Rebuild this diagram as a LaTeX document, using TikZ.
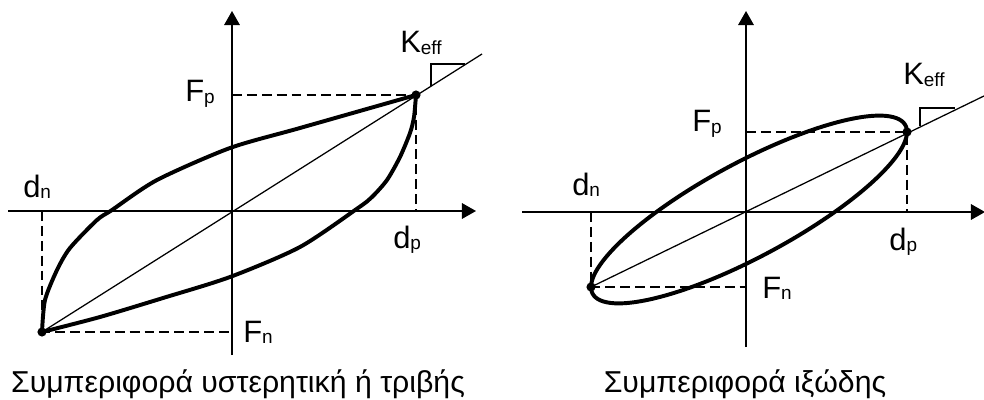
\documentclass[tikz,border=0pt]{standalone}
\usepackage{fontspec}
\setmainfont{Liberation Sans}
\usetikzlibrary{arrows.meta}
\newcommand{\lsub}[1]{\raisebox{-1.2pt}{\fontsize{13.5}{14}\selectfont #1}}
\tikzset{
    axisline/.style={line width=1.3pt, -{Triangle[length=10pt, width=11pt]}},
    loopline/.style={line width=2.8pt, line join=round, line cap=round},
    slopeline/.style={line width=0.9pt},
    guideline/.style={line width=1.1pt, dash pattern=on 7pt off 3.6pt},
    peakdot/.style={circle, fill=black, inner sep=0pt, minimum size=6.5pt},
    axlabel/.style={inner sep=0pt, anchor=base west, font=\fontsize{22}{24}\selectfont},
    figcap/.style={inner sep=0pt, anchor=base, font=\fontsize{21.5}{25}\selectfont}
}

\begin{document}
\begin{tikzpicture}[x=0.025cm, y=-0.025cm]
\useasboundingbox (0,0) rectangle (984,400);

% --- hysteretic / friction loop
\coordinate (oL) at (232,211);
\coordinate (pL) at (416,95);
\coordinate (nL) at (42,332);
\coordinate (xLa) at (8,211);
\coordinate (xLb) at (476,211);
\coordinate (yLa) at (232,355);
\coordinate (yLb) at (232,11);
\coordinate (eL) at (482,54);
\coordinate (tLa) at (431,86);
\coordinate (tLb) at (431,64);
\coordinate (tLc) at (465,64);

\draw[axisline] (xLa) -- (xLb);
\draw[axisline] (yLa) -- (yLb);
\draw[guideline] (oL |- pL) -- (pL) -- (pL |- oL);
\draw[guideline] (nL |- oL) -- (nL) -- (oL |- nL);
\draw[slopeline] (nL) -- (eL);
\draw[slopeline] (tLa) -- (tLb) -- (tLc);

\draw[loopline] plot[smooth, tension=0.45] coordinates {(42,332) (45,300) (57,270) (70,248) (97,220) (112,210) (157,180) (230,148) (300,128) (416,95)};
\draw[loopline] plot[smooth, tension=0.45] coordinates {(416,95) (414,117) (410,133) (400,157) (387,180) (372,197) (358,208) (300,247) (230,277) (163,298) (100,317) (42,332)};

\node[peakdot] (dotpL) at (pL) {};
\node[peakdot] (dotnL) at (nL) {};

\node[axlabel] (keffL) at (400,53) {K\lsub{eff}};
\node[axlabel] (fpL) at (185,102) {F\lsub{p}};
\node[axlabel] (dnL) at (23,197) {d\lsub{n}};
\node[axlabel] (dpL) at (393,248) {d\lsub{p}};
\node[axlabel] (fnL) at (243,342) {F\lsub{n}};
\node[figcap] (capL) at (238,392) {Συμπεριφορά υστερητική ή τριβής};

% --- viscous loop
\coordinate (oR) at (746,212);
\coordinate (pR) at (907,132);
\coordinate (nR) at (591,287);
\coordinate (xRa) at (522,212);
\coordinate (xRb) at (985,212);
\coordinate (yRa) at (746,347);
\coordinate (yRb) at (746,11);
\coordinate (eR) at (986,95);
\coordinate (tRa) at (920,126);
\coordinate (tRb) at (920,108);
\coordinate (tRc) at (955,108);

\draw[axisline] (xRa) -- (xRb);
\draw[axisline] (yRa) -- (yRb);
\draw[guideline] (oR |- pR) -- (pR) -- (pR |- oR);
\draw[guideline] (nR |- oR) -- (nR) -- (oR |- nR);
\draw[slopeline] (nR) -- (eR);
\draw[slopeline] (tRa) -- (tRb) -- (tRc);

\begin{scope}[shift={(749,209.5)}]
  \draw[loopline] plot[domain=0:360, samples=120, smooth] ({158*cos(\x)}, {-77.5*cos(\x)+53*sin(\x)});
\end{scope}

\node[peakdot] (dotpR) at (pR) {};
\node[peakdot] (dotnR) at (nR) {};

\node[axlabel] (keffR) at (903,85) {K\lsub{eff}};
\node[axlabel] (fpR) at (692,132) {F\lsub{p}};
\node[axlabel] (dnR) at (572,195) {d\lsub{n}};
\node[axlabel] (dpR) at (889,250) {d\lsub{p}};
\node[axlabel] (fnR) at (762,298) {F\lsub{n}};
\node[figcap] (capR) at (745,392) {Συμπεριφορά ιξώδης};

\end{tikzpicture}
\end{document}
